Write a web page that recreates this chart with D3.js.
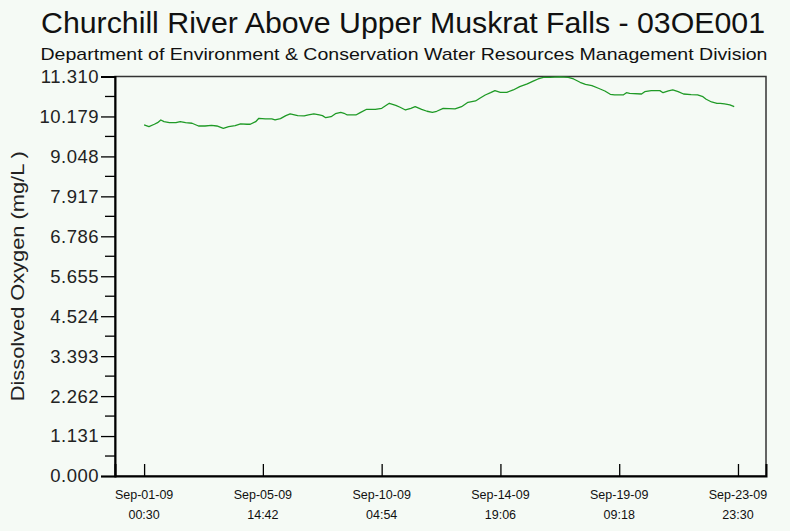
<!DOCTYPE html>
<html>
<head>
<meta charset="utf-8">
<script src="https://cdn.jsdelivr.net/npm/d3@7"></script>
<style>
  html, body { margin: 0; padding: 0; background: #f5faf5; }
  svg { display: block; font-family: "Liberation Sans", Arial, sans-serif; }
</style>
</head>
<body>
<svg id="chart" width="790" height="531"></svg>
<script>
// Dissolved oxygen readings, Sep 2009
const times = [
  "2009-09-01 00:30", "2009-09-01 05:00", "2009-09-01 10:00", "2009-09-01 13:00", "2009-09-01 16:00",
  "2009-09-01 19:00", "2009-09-02 00:00", "2009-09-02 06:00", "2009-09-02 10:00", "2009-09-02 15:00",
  "2009-09-02 21:00", "2009-09-03 03:00", "2009-09-03 09:00", "2009-09-03 15:00", "2009-09-03 20:00",
  "2009-09-04 02:00", "2009-09-04 07:00", "2009-09-04 13:00", "2009-09-04 18:00", "2009-09-05 00:00",
  "2009-09-05 03:00", "2009-09-05 08:00", "2009-09-05 11:00", "2009-09-05 17:00", "2009-09-05 23:00",
  "2009-09-06 02:00", "2009-09-06 07:00", "2009-09-06 12:00", "2009-09-06 16:00", "2009-09-06 23:00",
  "2009-09-07 05:00", "2009-09-07 09:00", "2009-09-07 14:00", "2009-09-07 19:00", "2009-09-07 22:00",
  "2009-09-08 01:00", "2009-09-08 06:00", "2009-09-08 10:00", "2009-09-08 15:00", "2009-09-08 18:00",
  "2009-09-08 21:00", "2009-09-09 05:00", "2009-09-09 09:00", "2009-09-09 15:00", "2009-09-09 23:00",
  "2009-09-10 05:00", "2009-09-10 12:00", "2009-09-10 18:00", "2009-09-10 22:00", "2009-09-11 03:00",
  "2009-09-11 08:00", "2009-09-11 12:00", "2009-09-11 18:00", "2009-09-11 23:00", "2009-09-12 04:00",
  "2009-09-12 08:00", "2009-09-12 14:00", "2009-09-13 01:00", "2009-09-13 07:00", "2009-09-13 13:00",
  "2009-09-13 20:00", "2009-09-14 00:00", "2009-09-14 05:00", "2009-09-14 10:00", "2009-09-14 14:00",
  "2009-09-14 19:00", "2009-09-15 01:00", "2009-09-15 07:00", "2009-09-15 13:00", "2009-09-15 20:00",
  "2009-09-16 02:00", "2009-09-16 06:00", "2009-09-16 11:00", "2009-09-16 17:00", "2009-09-17 02:00",
  "2009-09-17 10:00", "2009-09-17 15:00", "2009-09-17 21:00", "2009-09-18 02:00", "2009-09-18 08:00",
  "2009-09-18 14:00", "2009-09-18 20:00", "2009-09-19 01:00", "2009-09-19 05:00", "2009-09-19 13:00",
  "2009-09-19 16:00", "2009-09-19 19:00", "2009-09-20 06:00", "2009-09-20 09:00", "2009-09-20 15:00",
  "2009-09-20 23:00", "2009-09-21 02:00", "2009-09-21 07:00", "2009-09-21 11:00", "2009-09-21 16:00",
  "2009-09-21 21:00", "2009-09-22 04:00", "2009-09-22 10:00", "2009-09-22 15:00", "2009-09-22 18:00",
  "2009-09-22 23:00", "2009-09-23 04:00", "2009-09-23 07:00", "2009-09-23 11:00", "2009-09-23 16:00",
  "2009-09-23 20:00"
];
const oxygen = [
  9.938, 9.890, 9.958, 10.003, 10.079, 10.031, 10.003, 10.003, 10.031, 10.003,
  9.986, 9.909, 9.909, 9.929, 9.909, 9.844, 9.890, 9.918, 9.966, 9.958,
  9.958, 10.031, 10.127, 10.108, 10.108, 10.079, 10.116, 10.201, 10.249, 10.201,
  10.193, 10.221, 10.249, 10.221, 10.201, 10.144, 10.173, 10.258, 10.297, 10.269,
  10.221, 10.221, 10.286, 10.382, 10.382, 10.410, 10.552, 10.495, 10.439, 10.362,
  10.410, 10.456, 10.382, 10.326, 10.297, 10.326, 10.410, 10.391, 10.456, 10.580,
  10.617, 10.694, 10.787, 10.852, 10.909, 10.863, 10.863, 10.929, 11.022, 11.099,
  11.184, 11.240, 11.288, 11.288, 11.297, 11.288, 11.240, 11.146, 11.090, 11.050,
  10.977, 10.900, 10.807, 10.787, 10.787, 10.852, 10.835, 10.815, 10.881, 10.909,
  10.909, 10.852, 10.900, 10.929, 10.881, 10.815, 10.796, 10.787, 10.739, 10.665,
  10.589, 10.552, 10.552, 10.532, 10.504, 10.456
];
const xTickStart = "2009-09-01 00:30";
const xTickEnd = "2009-09-23 23:30";
const xTickCount = 6;
const yTickValues = [0, 1.131, 2.262, 3.393, 4.524, 5.655, 6.786, 7.917, 9.048, 10.179, 11.310];

const title = "Churchill River Above Upper Muskrat Falls - 03OE001";
const subtitle = "Department of Environment & Conservation Water Resources Management Division";
const yLabel = "Dissolved Oxygen (mg/L )";

const W = 790, H = 531;
const M = { top: 76.5, right: 24, bottom: 55, left: 115 };
const PAD_HOURS = 26.5;

const parse = d3.timeParse("%Y-%m-%d %H:%M");
const data = times.map((t, i) => ({ t: parse(t), v: oxygen[i] }));
const t0 = parse(xTickStart), t1 = parse(xTickEnd);

const svg = d3.select('#chart');
svg.append('rect').attr('width', W).attr('height', H).attr('fill', '#f5faf5');

const x = d3.scaleTime()
  .domain([d3.timeHour.offset(t0, -PAD_HOURS), d3.timeHour.offset(t1, PAD_HOURS)])
  .range([M.left, W - M.right]);
const y = d3.scaleLinear()
  .domain([0, 11.31])
  .range([H - M.bottom, M.top]);

const xTicks = d3.range(xTickCount).map(i => new Date(+t0 + i * (t1 - t0) / (xTickCount - 1)));

// Titles
svg.append('text')
  .attr('x', 403).attr('y', 33)
  .attr('text-anchor', 'middle')
  .attr('font-size', 29)
  .attr('textLength', 724).attr('lengthAdjust', 'spacingAndGlyphs')
  .attr('fill', '#111')
  .text(title);
svg.append('text')
  .attr('x', 404).attr('y', 60)
  .attr('text-anchor', 'middle')
  .attr('font-size', 17)
  .attr('textLength', 727).attr('lengthAdjust', 'spacingAndGlyphs')
  .attr('fill', '#111')
  .text(subtitle);

// Plot frame (top and right)
svg.append('rect')
  .attr('x', M.left).attr('y', M.top)
  .attr('width', W - M.right - M.left).attr('height', H - M.bottom - M.top)
  .attr('fill', 'none')
  .attr('stroke', '#333')
  .attr('stroke-width', 1.5);

// Y axis with minor ticks
const yMinor = d3.range(yTickValues.length - 1).map(i => (yTickValues[i] + yTickValues[i + 1]) / 2);
const yAxis = svg.append('g')
  .attr('transform', `translate(${M.left},0)`)
  .call(d3.axisLeft(y).tickValues(yTickValues).tickSize(14).tickPadding(2).tickFormat(d3.format('.3f')));
yAxis.select('.domain').attr('stroke', '#000').attr('stroke-width', 2);
yAxis.selectAll('.tick line').attr('stroke', '#000').attr('stroke-width', 1.3);
yAxis.selectAll('.tick text')
  .attr('font-size', 18.5)
  .attr('letter-spacing', 0.5)
  .attr('fill', '#222')
  .attr('font-family', '"Liberation Sans", Arial, sans-serif');
svg.append('g')
  .selectAll('line')
  .data(yMinor)
  .join('line')
  .attr('x1', M.left - 10).attr('x2', M.left)
  .attr('y1', d => y(d)).attr('y2', d => y(d))
  .attr('stroke', '#000').attr('stroke-width', 1.3);

// X axis: ticks point up into the plot
const xAxis = svg.append('g')
  .attr('transform', `translate(0,${H - M.bottom})`)
  .call(d3.axisBottom(x).tickValues(xTicks).tickSize(-12).tickFormat(''));
xAxis.select('.domain').attr('stroke', '#000').attr('stroke-width', 2);
xAxis.selectAll('.tick line').attr('stroke', '#000').attr('stroke-width', 1.3);

const fmtDate = d3.timeFormat('%b-%d-%y');
const fmtTime = d3.timeFormat('%H:%M');
const xLab = svg.append('g')
  .selectAll('text')
  .data(xTicks)
  .join('text')
  .attr('text-anchor', 'middle')
  .attr('font-size', 12.5)
  .attr('fill', '#111');
xLab.append('tspan').attr('x', d => x(d)).attr('y', 499).text(d => fmtDate(d));
xLab.append('tspan').attr('x', d => x(d)).attr('y', 519).text(d => fmtTime(d));

// Y axis title
svg.append('text')
  .attr('transform', `translate(24,${(M.top + H - M.bottom) / 2}) rotate(-90)`)
  .attr('text-anchor', 'middle')
  .attr('font-size', 17.5)
  .attr('textLength', 250).attr('lengthAdjust', 'spacingAndGlyphs')
  .attr('fill', '#222')
  .text(yLabel);

// Series line
const line = d3.line()
  .x(d => x(d.t))
  .y(d => y(d.v));
svg.append('path')
  .datum(data)
  .attr('d', line)
  .attr('fill', 'none')
  .attr('stroke', '#1f9a26')
  .attr('stroke-width', 1.3)
  .attr('stroke-linejoin', 'round');
</script>
</body>
</html>
